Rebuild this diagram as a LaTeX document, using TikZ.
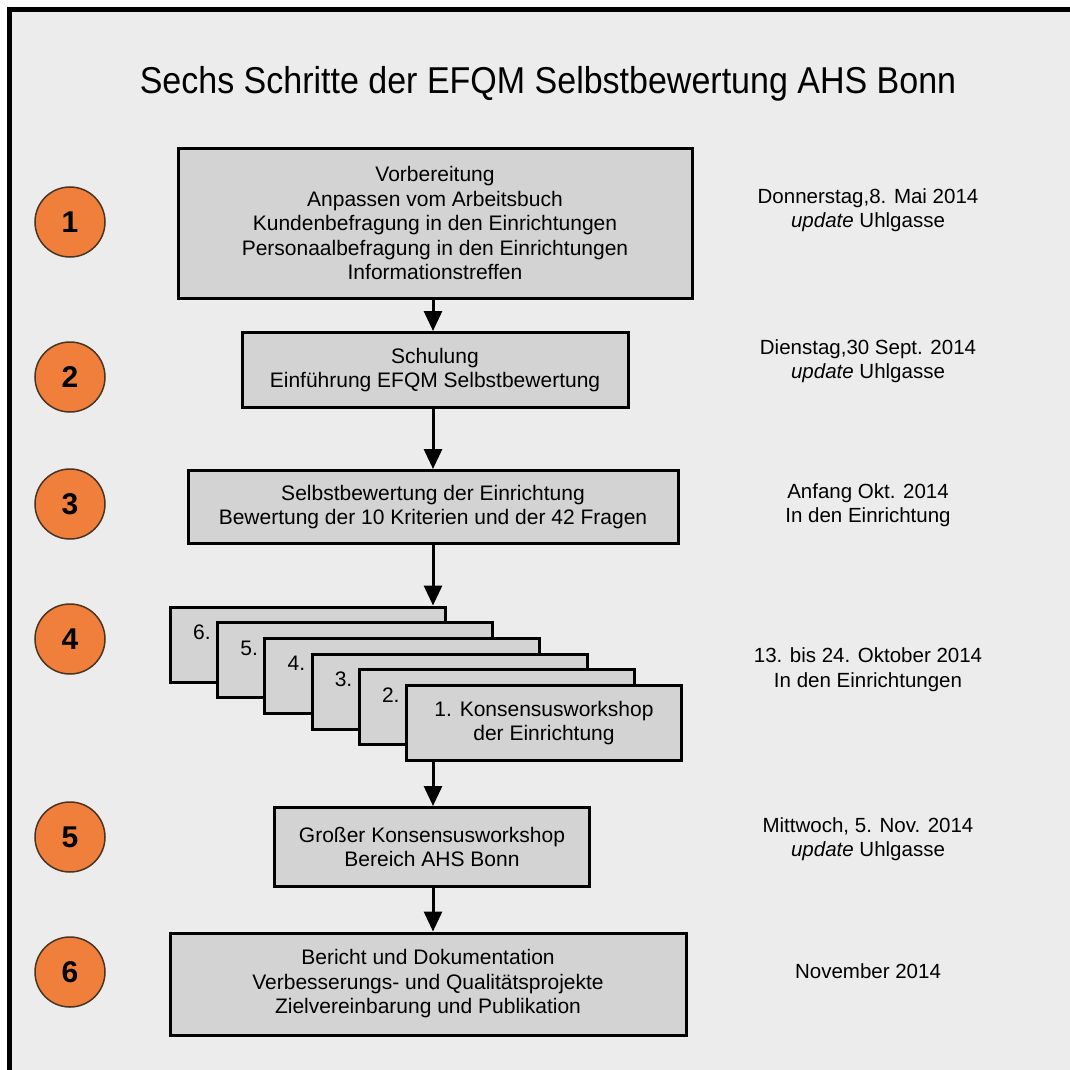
\documentclass[tikz,border=0pt]{standalone}
\usepackage{fontspec}
\setmainfont{Liberation Sans}
\usetikzlibrary{arrows.meta,calc}
\definecolor{bg}{HTML}{ECECEC}
\definecolor{boxfill}{HTML}{D3D3D3}
\definecolor{orng}{HTML}{EF7F3A}
\definecolor{rim}{HTML}{4A3422}
\tikzset{
  stepbox/.style={draw=black, line width=3pt, fill=boxfill, align=center,
    font=\fontsize{21}{24.5}\selectfont, inner sep=0pt, text=black},
  numcirc/.style={circle, draw=rim, line width=1.5pt, fill=orng, minimum size=70pt,
    inner sep=0pt, font=\fontsize{30}{30}\selectfont\bfseries},
  datetext/.style={align=center, font=\fontsize{20.5}{24.5}\selectfont, text=black},
  stacklbl/.style={anchor=base west, font=\fontsize{21}{24.5}\selectfont, text=black, inner sep=0pt},
  conn/.style={line width=3pt, -{Triangle[length=20pt,width=18pt]}},
}
\begin{document}
\begin{tikzpicture}[x=1pt,y=-1pt]
\useasboundingbox (0,0) rectangle (1070,1070);
\fill[white] (0,0) rectangle (1070,1070);
\fill[bg] (9,10) rectangle (1080,1080);
\draw[line width=5pt] (9,1080) -- (9,10) -- (1080,10);

% title
\node[font=\fontsize{34}{40}\selectfont, text=black, yscale=1.1] (title) at (548,84) {Sechs Schritte der EFQM Selbstbewertung AHS Bonn};

% main boxes
\node[stepbox, minimum width=514pt, minimum height=150pt] (b1) at (435,223)
  {Vorbereitung\\Anpassen vom Arbeitsbuch\\Kundenbefragung in den Einrichtungen\\Personaalbefragung in den Einrichtungen\\Informationstreffen};
\node[stepbox, minimum width=386pt, minimum height=75pt] (b2) at (435,370)
  {Schulung\\Einführung EFQM Selbstbewertung};
\node[stepbox, minimum width=490pt, minimum height=73pt] (b3) at (433,507)
  {Selbstbewertung der Einrichtung\\Bewertung der 10 Kriterien und der 42 Fragen};

% stacked workshop boxes
\foreach \k in {6,5,4,3,2} {
  \node[stepbox, minimum width=275pt, minimum height=75pt, anchor=north west] (s\k)
    at ({405-47.2*(\k-1)},{684-15.7*(\k-1)}) {};
  \node[stacklbl] (l\k) at ($(s\k.north west)+(24,34)$) {\k.};
}
\node[stepbox, minimum width=275pt, minimum height=75pt, anchor=north west] (s1)
  at (405,684) {1. Konsensusworkshop\\der Einrichtung};

\node[stepbox, minimum width=315pt, minimum height=79pt] (b5) at (432,847)
  {Großer Konsensusworkshop\\Bereich AHS Bonn};
\node[stepbox, minimum width=516pt, minimum height=102pt] (b6) at (428,984)
  {Bericht und Dokumentation\\Verbesserungs- und Qualitätsprojekte\\Zielvereinbarung und Publikation};

% connectors
\draw[conn] (b1.south -| 433,0) -- (b2.north -| 433,0);
\draw[conn] (b2.south -| 433,0) -- (b3.north -| 433,0);
\draw[conn] (b3.south -| 433,0) -- (s6.north -| 433,0);
\draw[conn] (s1.south -| 433,0) -- (b5.north -| 433,0);
\draw[conn] (b5.south -| 433,0) -- (b6.north -| 433,0);

% numbered circles
\node[numcirc] (c1) at (70,222) {1};
\node[numcirc] (c2) at (70,377) {2};
\node[numcirc] (c3) at (70,504) {3};
\node[numcirc] (c4) at (70,639) {4};
\node[numcirc] (c5) at (70,837) {5};
\node[numcirc] (c6) at (70,972) {6};

% dates
\node[datetext] (d1) at (868,210) {Donnerstag,8. Mai 2014\\\textit{update} Uhlgasse};
\node[datetext] (d2) at (868,361) {Dienstag,30 Sept. 2014\\\textit{update} Uhlgasse};
\node[datetext] (d3) at (868,505) {Anfang Okt. 2014\\In den Einrichtung};
\node[datetext] (d4) at (868,669.5) {13. bis 24. Oktober 2014\\In den Einrichtungen};
\node[datetext] (d5) at (868,839) {Mittwoch, 5. Nov. 2014\\\textit{update} Uhlgasse};
\node[datetext] (d6) at (868,971) {November 2014};
\end{tikzpicture}
\end{document}
